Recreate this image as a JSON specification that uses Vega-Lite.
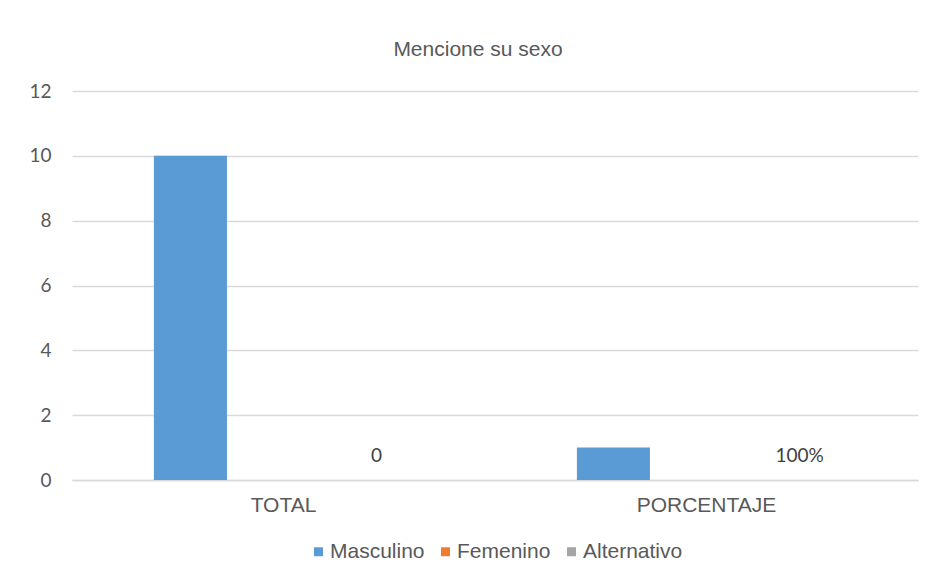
{
  "$schema": "https://vega.github.io/schema/vega-lite/v6.json",
  "width": 846,
  "height": 389,
  "autosize": {"type": "none"},
  "padding": {"left": 72, "top": 91, "right": 17, "bottom": 101},
  "background": "white",
  "title": {
    "text": "Mencione su sexo",
    "font": "Liberation Sans",
    "fontSize": 21,
    "fontWeight": "normal",
    "color": "#595959",
    "anchor": "middle",
    "dx": -17,
    "offset": 22
  },
  "data": {
    "values": [
      {"categoria": "TOTAL", "serie": "Masculino", "valor": 10, "etiqueta": null},
      {"categoria": "TOTAL", "serie": "Femenino", "valor": 0, "etiqueta": null},
      {"categoria": "TOTAL", "serie": "Alternativo", "valor": 0, "etiqueta": "0"},
      {"categoria": "PORCENTAJE", "serie": "Masculino", "valor": 1, "etiqueta": null},
      {"categoria": "PORCENTAJE", "serie": "Femenino", "valor": 0, "etiqueta": null},
      {"categoria": "PORCENTAJE", "serie": "Alternativo", "valor": 0, "etiqueta": "100%"}
    ]
  },
  "encoding": {
    "x": {
      "field": "categoria",
      "type": "nominal",
      "sort": ["TOTAL", "PORCENTAJE"],
      "scale": {"paddingInner": 0, "paddingOuter": 0},
      "axis": {
        "title": null,
        "labelAngle": 0,
        "labelFont": "Liberation Sans",
        "labelFontSize": 21,
        "labelColor": "#595959",
        "labelPadding": 14,
        "ticks": false,
        "domainColor": "#D9D9D9",
        "domainWidth": 1.5,
        "grid": false
      }
    },
    "xOffset": {
      "field": "serie",
      "type": "nominal",
      "sort": ["Masculino", "Femenino", "Alternativo"],
      "scale": {"paddingInner": 0.215, "paddingOuter": 0.88}
    }
  },
  "layer": [
    {
      "mark": {"type": "bar"},
      "encoding": {
        "y": {
          "field": "valor",
          "type": "quantitative",
          "scale": {"domain": [0, 12], "nice": false},
          "axis": {
            "title": null,
            "values": [0, 2, 4, 6, 8, 10, 12],
            "labelFont": "Lato",
            "labelFontSize": 19,
            "labelColor": "#595959",
            "labelPadding": 21,
            "ticks": false,
            "domain": false,
            "gridColor": "#D9D9D9",
            "gridWidth": 1.5
          }
        },
        "color": {
          "field": "serie",
          "type": "nominal",
          "sort": ["Masculino", "Femenino", "Alternativo"],
          "scale": {
            "domain": ["Masculino", "Femenino", "Alternativo"],
            "range": ["#5B9BD5", "#ED7D31", "#A5A5A5"]
          },
          "legend": {
            "title": null,
            "orient": "bottom",
            "direction": "horizontal",
            "symbolType": "square",
            "symbolSize": 81,
            "symbolStrokeWidth": 0,
            "labelFont": "Liberation Sans",
            "labelFontSize": 21,
            "labelColor": "#595959",
            "labelOffset": 1,
            "columnPadding": 10,
            "offset": 26
          }
        }
      }
    },
    {
      "transform": [{"filter": "datum.etiqueta != null"}],
      "mark": {
        "type": "text",
        "font": "Lato",
        "fontSize": 19,
        "color": "#404040",
        "baseline": "alphabetic",
        "dy": -18
      },
      "encoding": {
        "y": {"field": "valor", "type": "quantitative"},
        "text": {"field": "etiqueta", "type": "nominal"}
      }
    }
  ],
  "config": {
    "view": {"stroke": null},
    "legend": {"layout": {"bottom": {"anchor": "middle"}}}
  }
}
